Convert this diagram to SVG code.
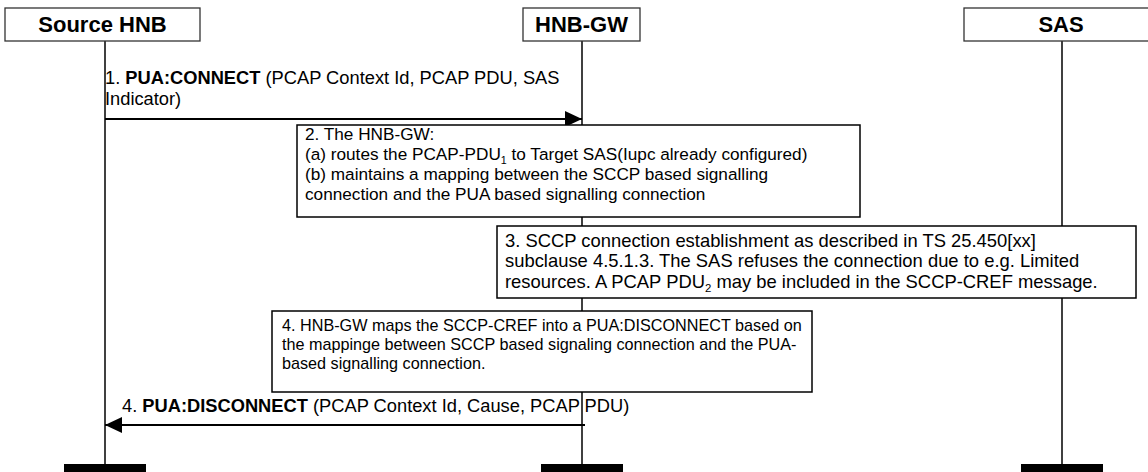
<svg xmlns="http://www.w3.org/2000/svg" width="1148" height="472" viewBox="0 0 1148 472">
<style>
text{font-family:"Liberation Sans",Arial,sans-serif;fill:#000}
.hdr{font-size:22px;font-weight:bold;text-anchor:middle}
.m{font-size:18.3px}
.n2{font-size:17.2px}
.n3{font-size:18.4px}
.n4{font-size:16.2px}
.b{font-weight:bold}
.sub{font-size:0.62em}
.hbox{fill:#fff;stroke:#333;stroke-width:1.3}
.nbox{fill:#fff;stroke:#000;stroke-width:1.5}
.life{stroke:#000;stroke-width:1.5;fill:none}
.bar{fill:#000}
.msg{stroke:#000;stroke-width:2;fill:none}
</style>
<defs>
<marker id="ah" viewBox="0 0 17 16" refX="17" refY="8" markerWidth="17" markerHeight="16" markerUnits="userSpaceOnUse" orient="auto">
<path d="M0,0 L17,8 L0,16 Z" fill="#000"/>
</marker>
</defs>
<g id="lifelines">
<line class="life" x1="105" y1="41" x2="105" y2="464"/>
<line class="life" x1="582" y1="41" x2="582" y2="464"/>
<line class="life" x1="1062" y1="41" x2="1062" y2="464"/>
</g>
<g id="node-source-hnb">
<rect class="hbox" x="5" y="8" width="195" height="33"/>
<text class="hdr" x="102.5" y="32">Source HNB</text>
<rect class="bar" x="64" y="464" width="82" height="10"/>
</g>
<g id="node-hnb-gw">
<rect class="hbox" x="523" y="8" width="117" height="33"/>
<text class="hdr" x="581.5" y="32">HNB-GW</text>
<rect class="bar" x="541" y="464" width="82" height="10"/>
</g>
<g id="node-sas">
<rect class="hbox" x="964" y="8" width="196" height="33"/>
<text class="hdr" x="1061" y="32">SAS</text>
<rect class="bar" x="1021" y="464" width="82" height="10"/>
</g>
<g id="connectors">
<line class="msg" x1="105" y1="119" x2="582" y2="119" marker-end="url(#ah)"/>
<line class="msg" x1="585" y1="425" x2="105" y2="425" marker-end="url(#ah)"/>
</g>
<g id="msg1-label">
<text class="m" x="105" y="83.5">1. <tspan class="b">PUA:CONNECT</tspan> (PCAP Context Id, PCAP PDU, SAS</text>
<text class="m" x="105" y="104.5">Indicator)</text>
</g>
<g id="note2">
<rect class="nbox" x="297" y="125" width="563" height="92"/>
<text class="n2" x="305" y="140">2. The HNB-GW:</text>
<text class="n2" x="305" y="160">(a) routes the PCAP-PDU<tspan class="sub" dy="4">1</tspan><tspan dy="-4"> to Target SAS(Iupc already configured)</tspan></text>
<text class="n2" x="305" y="180">(b) maintains a mapping between the SCCP based signalling</text>
<text class="n2" x="305" y="200">connection and the PUA based signalling connection</text>
</g>
<g id="note3">
<rect class="nbox" x="497" y="226" width="639" height="72"/>
<text class="n3" x="505" y="246.5">3. SCCP connection establishment as described in TS 25.450[xx]</text>
<text class="n3" x="505" y="267">subclause 4.5.1.3. The SAS refuses the connection due to e.g. Limited</text>
<text class="n3" x="505" y="287.5">resources. A PCAP PDU<tspan class="sub" dy="4">2</tspan><tspan dy="-4"> may be included in the SCCP-CREF message.</tspan></text>
</g>
<g id="note4">
<rect class="nbox" x="272" y="311" width="540" height="81"/>
<text class="n4" x="282" y="331">4. HNB-GW maps the SCCP-CREF into a PUA:DISCONNECT based on</text>
<text class="n4" x="282" y="350">the mappinge between SCCP based signaling connection and the PUA-</text>
<text class="n4" x="282" y="369">based signalling connection.</text>
</g>
<g id="msg4-label">
<text class="m" x="122" y="412">4. <tspan class="b">PUA:DISCONNECT</tspan> (PCAP Context Id, Cause, PCAP PDU)</text>
</g>
</svg>
